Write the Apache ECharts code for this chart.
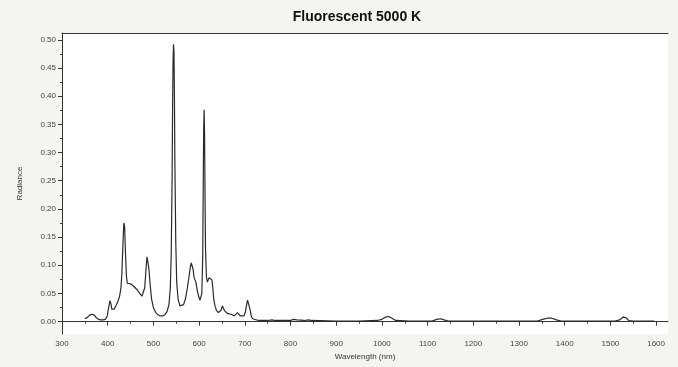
<!DOCTYPE html>
<html>
<head>
<meta charset="utf-8">
<script src="https://cdn.jsdelivr.net/npm/echarts@6/dist/echarts.min.js"></script>
<style>
html,body{margin:0;padding:0;background:#f4f4f1;}
#chart{width:678px;height:367px;}
</style>
</head>
<body>
<div id="chart"></div>
<script>
// Wavelength (nm)
var wavelengths = [350,355,360,365,370,375,380,385,390,395,399,402,405,407,409,411,414,418,422,426,429,431,433,435,436,437,439,441,443,446,450,455,460,465,470,475,478,481,484,486,487,488,490,493,496,500,505,510,515,520,525,530,534,537,539,541,542,543,544,545,546,547,549,551,554,558,562,566,570,574,578,581,583,585,587,589,591,593,596,599,602,604,606,608,609,610,611,612,613,614,616,618,620,622,624,626,628,630,632,635,638,642,645,648,651,653,656,660,663,667,670,674,677,680,684,687,690,694,698,701,704,706,708,710,712,714,717,720,730,750,760,765,790,800,806,810,814,830,840,845,900,950,990,1000,1008,1015,1022,1030,1060,1110,1120,1128,1136,1145,1200,1300,1340,1352,1362,1372,1382,1392,1450,1510,1520,1528,1534,1540,1550,1596];
// Radiance
var radiance = [0.005,0.007,0.011,0.013,0.012,0.007,0.004,0.003,0.003,0.004,0.010,0.025,0.037,0.032,0.022,0.019,0.022,0.028,0.035,0.045,0.060,0.085,0.130,0.170,0.175,0.168,0.120,0.080,0.068,0.066,0.067,0.064,0.060,0.056,0.050,0.045,0.046,0.060,0.095,0.115,0.118,0.114,0.095,0.065,0.040,0.025,0.016,0.012,0.010,0.010,0.012,0.018,0.030,0.060,0.120,0.260,0.380,0.460,0.492,0.480,0.400,0.280,0.140,0.070,0.040,0.028,0.026,0.030,0.040,0.058,0.080,0.098,0.104,0.103,0.092,0.078,0.075,0.070,0.055,0.045,0.038,0.036,0.050,0.120,0.240,0.340,0.376,0.330,0.220,0.130,0.080,0.070,0.072,0.078,0.080,0.076,0.074,0.060,0.040,0.027,0.020,0.016,0.015,0.020,0.028,0.024,0.019,0.018,0.014,0.015,0.013,0.011,0.010,0.012,0.016,0.015,0.010,0.008,0.010,0.016,0.030,0.038,0.041,0.036,0.020,0.010,0.005,0.003,0.002,0.002,0.003,0.002,0.002,0.002,0.004,0.005,0.003,0.002,0.003,0.002,0.001,0.001,0.002,0.004,0.008,0.009,0.006,0.002,0.001,0.001,0.004,0.005,0.003,0.001,0.001,0.001,0.001,0.004,0.006,0.006,0.003,0.001,0.001,0.001,0.003,0.008,0.007,0.002,0.001,0.001];
var xTicks = [300,400,500,600,700,800,900,1000,1100,1200,1300,1400,1500,1600];
var xMinorTicks = [350,450,550,650,750,850,950,1050,1150,1250,1350,1450,1550];
var yTicks = [0,0.05,0.10,0.15,0.20,0.25,0.30,0.35,0.40,0.45,0.50];
var yMinorTicks = [0.025,0.075,0.125,0.175,0.225,0.275,0.325,0.375,0.425,0.475];

var chart = echarts.init(document.getElementById('chart'));
var data = wavelengths.map(function(w,i){return [w, radiance[i]];});
var xMin = 300, xMax = 1626, yMin = -0.022, yMax = 0.512;
var lab = {fontFamily:'Liberation Sans, Arial, sans-serif', fontSize:8, color:'#444'};
chart.setOption({
  backgroundColor:'#f4f4f1',
  animation:false,
  title:{text:'Fluorescent 5000 K', left:352, textAlign:'center', top:5,
    textStyle:{fontFamily:'Liberation Sans, Arial, sans-serif', fontSize:14, fontWeight:'bold', color:'#111'}},
  grid:{left:62, right:10, top:33, bottom:33, show:true, backgroundColor:'#ffffff', borderWidth:0},
  xAxis:[
    {type:'value', position:'bottom', min:xMin, max:xMax,
     name:'Wavelength (nm)', nameLocation:'middle', nameGap:18,
     nameTextStyle:{fontFamily:'Liberation Sans, Arial, sans-serif', fontSize:8, color:'#333'},
     axisLine:{show:true, lineStyle:{color:'#333', width:1}},
     axisTick:{show:true, customValues:xTicks, length:4, lineStyle:{color:'#333'}},
     axisLabel:Object.assign({customValues:xTicks, margin:6, formatter:function(v){return String(Math.round(v));}}, lab),
     splitLine:{show:false}},
    {type:'value', position:'bottom', min:xMin, max:xMax,
     axisLine:{show:false},
     axisTick:{show:true, customValues:xMinorTicks, length:2, lineStyle:{color:'#333'}},
     axisLabel:{show:false}, splitLine:{show:false}},
    {type:'value', position:'top', min:xMin, max:xMax,
     axisLine:{show:true, lineStyle:{color:'#333', width:1}},
     axisTick:{show:false}, axisLabel:{show:false}, splitLine:{show:false}}
  ],
  yAxis:[
    {type:'value', position:'left', min:yMin, max:yMax,
     name:'Radiance', nameLocation:'middle', nameGap:38, nameRotate:90,
     nameTextStyle:{fontFamily:'Liberation Sans, Arial, sans-serif', fontSize:8, color:'#333'},
     axisLine:{show:true, lineStyle:{color:'#333', width:1}},
     axisTick:{show:true, customValues:yTicks, length:4, lineStyle:{color:'#333'}},
     axisLabel:Object.assign({customValues:yTicks, margin:6, formatter:function(v){return v.toFixed(2);}}, lab),
     splitLine:{show:false}},
    {type:'value', position:'left', min:yMin, max:yMax,
     axisLine:{show:false},
     axisTick:{show:true, customValues:yMinorTicks, length:2, lineStyle:{color:'#333'}},
     axisLabel:{show:false}, splitLine:{show:false}}
  ],
  series:[{
    type:'line', xAxisIndex:0, yAxisIndex:0, data:data, showSymbol:false, smooth:false,
    lineStyle:{color:'#2a2a2a', width:1.2}
  }]
});
</script>
</body>
</html>
